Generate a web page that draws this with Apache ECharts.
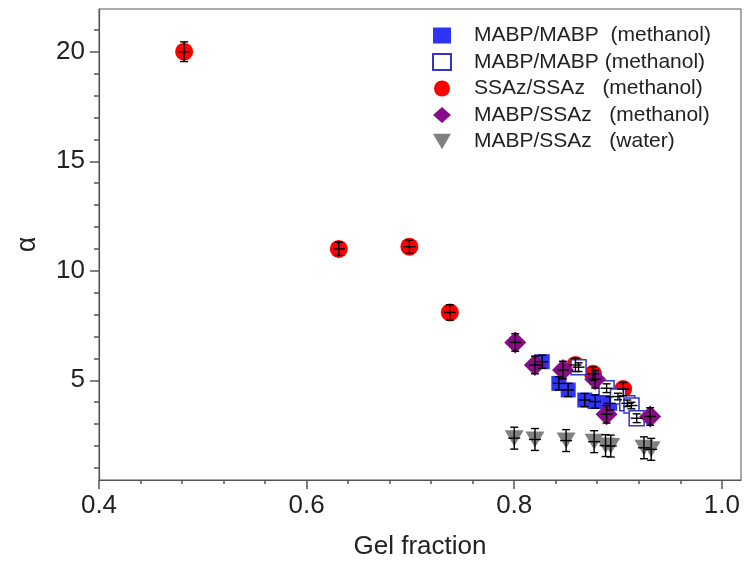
<!DOCTYPE html>
<html>
<head>
<meta charset="utf-8">
<script src="https://cdn.jsdelivr.net/npm/echarts@6/dist/echarts.min.js"></script>
<style>
  html, body { margin: 0; padding: 0; background: #fff; }
  #main { width: 745px; height: 565px; }
</style>
</head>
<body>
<div id="main"></div>
<script>
// axis ticks
var xTicks = [0.4, 0.6, 0.8, 1.0];
var yTicks = [5, 10, 15, 20];

// MABP/MABP (methanol), filled squares
var mmX = [0.827, 0.843, 0.852, 0.868, 0.878, 0.892];
var mmY = [5.85, 4.86, 4.56, 4.10, 4.03, 3.95];
var mmErr = [0.3, 0.3, 0.3, 0.3, 0.3, 0.3];

// MABP/MABP (methanol), open squares
var moX = [0.862, 0.889, 0.900, 0.909, 0.913, 0.918];
var moY = [5.60, 4.64, 4.26, 3.95, 3.85, 3.27];
var moErr = [0.2, 0.2, 0.15, 0.15, 0.15, 0.2];

// SSAz/SSAz (methanol)
var ssX = [0.482, 0.631, 0.699, 0.738, 0.859, 0.876, 0.905];
var ssY = [20.0, 11.0, 11.1, 8.1, 5.7, 5.3, 4.6];
var ssErr = [0.45, 0.3, 0.3, 0.35, 0.3, 0.3, 0.3];

// MABP/SSAz (methanol)
var msX = [0.801, 0.820, 0.847, 0.878, 0.889, 0.931];
var msY = [6.73, 5.70, 5.47, 5.05, 3.45, 3.35];
var msErr = [0.4, 0.4, 0.4, 0.4, 0.4, 0.4];

// MABP/SSAz (water)
var mwX = [0.800, 0.820, 0.850, 0.877, 0.888, 0.893, 0.925, 0.932];
var mwY = [2.36, 2.30, 2.25, 2.20, 2.02, 2.00, 1.92, 1.85];
var mwErr = [0.5, 0.5, 0.5, 0.5, 0.5, 0.5, 0.5, 0.5];

var names = ['MABP/MABP  (methanol)', 'MABP/MABP (methanol)', 'SSAz/SSAz   (methanol)', 'MABP/SSAz   (methanol)', 'MABP/SSAz   (water)'];

var font = "'Liberation Sans', Arial, sans-serif";
var axisColor = '#555';

var xMinor = [];
for (var v = 0.44; v < 1.02; v += 0.04) { xMinor.push(+v.toFixed(2)); }
var yMinor = [];
for (var k = 1; k <= 21; k++) { if (k % 5 !== 0) yMinor.push(k); }

function pairs(xs, ys) {
    return xs.map(function (x, i) { return [x, ys[i]]; });
}

function errBars(xs, ys, errs) {
    return {
        type: 'custom',
        name: 'err',
        z: 5,
        silent: true,
        data: xs.map(function (x, i) { return [x, ys[i], errs[i]]; }),
        encode: { x: 0, y: 1 },
        renderItem: function (params, api) {
            var x = api.value(0), y = api.value(1), e = api.value(2);
            var top = api.coord([x, y + e]);
            var bot = api.coord([x, y - e]);
            var c = api.coord([x, y]);
            var st = { stroke: '#000', lineWidth: 1.4 };
            return {
                type: 'group',
                children: [
                    { type: 'line', shape: { x1: top[0], y1: top[1], x2: bot[0], y2: bot[1] }, style: st },
                    { type: 'line', shape: { x1: top[0] - 4, y1: top[1], x2: top[0] + 4, y2: top[1] }, style: st },
                    { type: 'line', shape: { x1: bot[0] - 4, y1: bot[1], x2: bot[0] + 4, y2: bot[1] }, style: st },
                    { type: 'line', shape: { x1: c[0] - 6, y1: c[1], x2: c[0] + 6, y2: c[1] }, style: st }
                ]
            };
        }
    };
}

var chart = echarts.init(document.getElementById('main'));
var option = {
    animation: false,
    textStyle: { fontFamily: font },
    grid: {
        left: 99, right: 4, top: 9, bottom: 83,
        show: true, borderColor: axisColor, borderWidth: 1
    },
    legend: {
        orient: 'vertical',
        left: 427,
        top: 20,
        itemWidth: 18,
        itemHeight: 16,
        itemGap: 5.5,
        data: names,
        textStyle: { fontSize: 21, lineHeight: 21, color: '#222', fontFamily: font, padding: [0, 0, 0, 18] }
    },
    xAxis: [{
        type: 'value',
        min: 0.4,
        max: 1.0185,
        name: 'Gel fraction',
        nameLocation: 'middle',
        nameGap: 54,
        nameTextStyle: { fontSize: 26, color: '#222' },
        axisLine: { lineStyle: { color: axisColor, width: 1.2 } },
        axisTick: { length: 9, customValues: xTicks, lineStyle: { color: axisColor, width: 1.5 } },
        axisLabel: {
            customValues: xTicks, margin: 13, fontSize: 26, color: '#222',
            formatter: function (v) { return v.toFixed(1); }
        },
        splitLine: { show: false }
    }, {
        type: 'value',
        min: 0.4,
        max: 1.0185,
        position: 'bottom',
        axisLine: { show: false },
        axisTick: { length: 4, customValues: xMinor, lineStyle: { color: axisColor, width: 1.5 } },
        axisLabel: { show: false },
        splitLine: { show: false }
    }],
    yAxis: [{
        type: 'value',
        min: 0.45,
        max: 21.95,
        name: 'α',
        nameLocation: 'middle',
        nameGap: 58,
        nameTextStyle: { fontSize: 27, color: '#222' },
        axisLine: { show: true, lineStyle: { color: axisColor, width: 1.2 } },
        axisTick: { show: true, length: 9, customValues: yTicks, lineStyle: { color: axisColor, width: 1.5 } },
        axisLabel: { customValues: yTicks, margin: 14, fontSize: 26, color: '#222' },
        splitLine: { show: false }
    }, {
        type: 'value',
        min: 0.45,
        max: 21.95,
        position: 'left',
        axisLine: { show: false },
        axisTick: { show: true, length: 5, customValues: yMinor, lineStyle: { color: axisColor, width: 1.5 } },
        axisLabel: { show: false },
        splitLine: { show: false }
    }],
    series: [{
        name: names[0],
        type: 'scatter',
        symbol: 'rect',
        symbolSize: 15,
        itemStyle: { color: '#2f35f5', opacity: 1 },
        data: pairs(mmX, mmY),
        z: 2
    }, errBars(mmX, mmY, mmErr), {
        name: names[1],
        type: 'scatter',
        symbol: 'rect',
        symbolSize: 15,
        itemStyle: { color: '#fff', borderColor: '#3434c8', borderWidth: 1.5, opacity: 1 },
        data: pairs(moX, moY),
        z: 3
    }, errBars(moX, moY, moErr), {
        name: names[2],
        type: 'scatter',
        symbol: 'circle',
        symbolSize: 18,
        itemStyle: { color: '#ff0000', opacity: 1 },
        data: pairs(ssX, ssY),
        z: 1
    }, errBars(ssX, ssY, ssErr), {
        name: names[3],
        type: 'scatter',
        symbol: 'diamond',
        symbolSize: 22,
        itemStyle: { color: '#870c87', opacity: 1 },
        data: pairs(msX, msY),
        z: 4
    }, errBars(msX, msY, msErr), {
        name: names[4],
        type: 'scatter',
        symbol: 'path://M0,0 L20,0 L10,17 Z',
        symbolSize: [19, 16],
        itemStyle: { color: '#808080', opacity: 1 },
        data: pairs(mwX, mwY),
        z: 4
    }, errBars(mwX, mwY, mwErr)]
};
chart.setOption(option);
</script>
</body>
</html>
